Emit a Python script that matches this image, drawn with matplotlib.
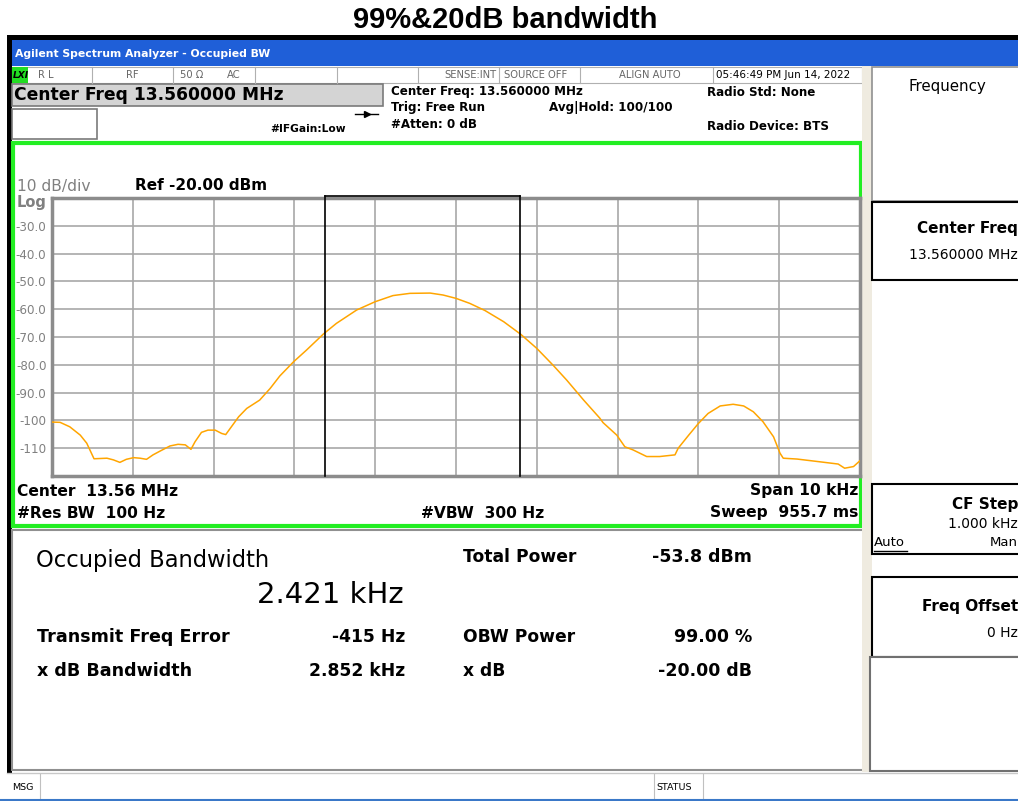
import numpy as np
import matplotlib.pyplot as plt
from matplotlib.patches import Rectangle

plt.rcParams['font.family'] = ['DejaVu Sans']

# trace: offset from centre (kHz) and level (dBm)
freq_khz = [-5.00, -4.90, -4.78, -4.65, -4.57, -4.48, -4.32, -4.24, -4.16, -4.08,
            -3.99, -3.91, -3.83, -3.75, -3.66, -3.54, -3.44, -3.35, -3.28, -3.23,
            -3.15, -3.07, -2.98, -2.90, -2.85, -2.78, -2.69, -2.59, -2.43, -2.30,
            -2.18, -2.01, -1.85, -1.64, -1.48, -1.23, -1.00, -0.78, -0.57, -0.32,
            -0.16, 0.00, 0.17, 0.36, 0.59, 0.80, 1.00, 1.20, 1.37, 1.58,
            1.78, 1.82, 1.99, 2.09, 2.19, 2.36, 2.52, 2.71, 2.75, 2.88,
            3.00, 3.12, 3.27, 3.43, 3.56, 3.68, 3.80, 3.93, 4.01, 4.05,
            4.22, 4.42, 4.59, 4.73, 4.81, 4.92, 5.00]
level_dbm = [-100.6, -100.7, -102.3, -105.3, -108.2, -113.8, -113.6, -114.2, -115.1, -114.0,
             -113.4, -113.6, -114.0, -112.4, -111.0, -109.2, -108.6, -108.8, -110.4, -107.7,
             -104.3, -103.5, -103.5, -104.7, -105.1, -102.3, -98.7, -95.7, -92.7, -88.5,
             -84.0, -78.9, -74.7, -68.9, -65.1, -60.3, -57.3, -55.1, -54.3, -54.2,
             -54.9, -56.1, -57.9, -60.5, -64.5, -69.0, -74.1, -80.1, -85.5, -92.7,
             -99.2, -100.8, -105.3, -109.5, -110.6, -113.0, -113.0, -112.4, -110.0, -105.3,
             -101.1, -97.5, -94.8, -94.2, -94.8, -96.9, -100.5, -105.9, -111.8, -113.6,
             -113.9, -114.6, -115.2, -115.7, -117.2, -116.6, -114.5]

ref_level = -20.0
db_per_div = 10
span_khz = 10.0
obw_khz = 2.421
freq_error_khz = -0.415

status_cells = ['R L', 'RF', '50 \u03a9', 'AC', 'SENSE:INT', 'SOURCE OFF', 'ALIGN AUTO',
                '05:46:49 PM Jun 14, 2022']
results_left = [('Transmit Freq Error', '-415 Hz'), ('x dB Bandwidth', '2.852 kHz')]
results_right = [('Total Power', '-53.8 dBm'), ('OBW Power', '99.00 %'), ('x dB', '-20.00 dB')]

W, H = 1018, 801
fig = plt.figure(figsize=(W / 100, H / 100), dpi=100)
bg = fig.add_axes([0, 0, 1, 1])
bg.set_xlim(0, W)
bg.set_ylim(H, 0)
bg.axis('off')


def box(x0, y0, x1, y1, fc='white', ec='none', lw=1.0, z=1):
    bg.add_patch(Rectangle((x0, y0), x1 - x0, y1 - y0, facecolor=fc, edgecolor=ec, lw=lw, zorder=z))


def txt(x, y, s, size=9, weight='bold', color='black', ha='left', **kw):
    bg.text(x, y, s, fontsize=size, fontweight=weight, color=color, ha=ha, va='center', **kw)


# title
txt(505, 20, '99%&20dB bandwidth', size=21, ha='center', family='Liberation Sans')

# window frame
box(7, 35, W, 40, fc='black')
box(7, 35, 12, 773, fc='black')
box(12, 40, W, 66, fc='#1f5fd8')
txt(15, 54, 'Agilent Spectrum Analyzer - Occupied BW', size=7.8, color='white')
box(862, 66, 872, 772, fc='#efebe0', z=2)

# status row
box(12, 67, 862, 83, fc='white', ec='#b0b0b0', lw=0.8)
box(12, 67, 28, 83, fc='#22dd22')
txt(13, 75, 'LXI', size=6.5, style='italic')
for sx in [92, 173, 255, 337, 418, 499, 580, 713]:
    bg.plot([sx, sx], [67, 83], color='#b0b0b0', lw=0.8)
cell_x = [38, 126, 180, 227, 497, 504, 650, 716]
cell_ha = ['left', 'left', 'left', 'left', 'right', 'left', 'center', 'left']
for s, cx, ha in zip(status_cells, cell_x, cell_ha):
    txt(cx, 75, s, size=7.5 if cx > 700 else 7.2, weight='normal',
        color='#666666' if cx < 700 else 'black', ha=ha)

# active function and settings
box(12, 84, 383, 106, fc='#d4d4d4', ec='#7a7a7a', lw=1.2)
txt(14, 95, 'Center Freq 13.560000 MHz', size=12.3)
box(12, 109, 97, 139, fc='white', ec='#7a7a7a', lw=1.2)
txt(270, 129, '#IFGain:Low', size=7.7)
bg.plot([355, 378], [114, 114], color='black', lw=1)
bg.plot([367], [114], marker='>', color='black', ms=4)
txt(391, 92, 'Center Freq: 13.560000 MHz', size=8.6)
txt(391, 108, 'Trig: Free Run', size=8.6)
txt(391, 124, '#Atten: 0 dB', size=8.6)
txt(549, 108, 'Avg|Hold: 100/100', size=8.6)
txt(707, 92, 'Radio Std: None', size=8.6)
txt(707, 126, 'Radio Device: BTS', size=8.6)

# graph frame
box(13, 143, 861, 526, fc='white', ec='#22ee22', lw=3)
txt(17, 186, '10 dB/div', size=11.2, weight='normal', color='#808080')
txt(17, 203, 'Log', size=10.5, color='#808080')
txt(135, 185, 'Ref %.2f dBm' % ref_level, size=11)
txt(17, 491, 'Center  13.56 MHz', size=11.2)
txt(17, 513, '#Res BW  100 Hz', size=11.2)
txt(421, 513, '#VBW  300 Hz', size=11.2)
txt(858, 491, 'Span %g kHz' % span_khz, size=11.2, ha='right')
txt(858, 513, 'Sweep  955.7 ms', size=11.2, ha='right')

# results panel
box(12, 530, 868, 770, fc='white', ec='#909090', lw=1.5)
txt(36, 561, 'Occupied Bandwidth', size=16.3, weight='normal')
txt(404, 595, '%.3f kHz' % obw_khz, size=21, weight='normal', ha='right')
for i, (lab, val) in enumerate(results_left):
    yy = 637 + 34 * i
    txt(37, yy, lab, size=12.6)
    txt(405, yy, val, size=12.3, ha='right')
for lab, val, yy in zip([r[0] for r in results_right], [r[1] for r in results_right], [557, 637, 671]):
    txt(463, yy, lab, size=12.3)
    txt(752, yy, val, size=12.5, ha='right')

# soft keys
box(872, 67, W + 2, 201, fc='white', ec='#909090', lw=1.2, z=3)
txt(947, 87, 'Frequency', size=10.8, weight='normal', ha='center', zorder=4)
box(872, 202, W + 2, 280, fc='white', ec='black', lw=1.5, z=3)
txt(1018, 229, 'Center Freq', size=11, ha='right', zorder=4)
txt(1018, 255, '13.560000 MHz', size=10, weight='normal', ha='right', zorder=4)
box(872, 484, W + 2, 554, fc='white', ec='black', lw=1.5, z=3)
txt(1018, 504, 'CF Step', size=11, ha='right', zorder=4)
txt(1018, 524, '1.000 kHz', size=10, weight='normal', ha='right', zorder=4)
txt(874, 543, 'Auto', size=9.5, weight='normal', zorder=4)
bg.plot([874, 907], [551, 551], color='black', lw=1, zorder=4)
txt(1018, 543, 'Man', size=9.5, weight='normal', ha='right', zorder=4)
box(872, 577, W + 2, 657, fc='white', ec='black', lw=1.5, z=3)
txt(1018, 606, 'Freq Offset', size=11, ha='right', zorder=4)
txt(1018, 633, '0 Hz', size=10, weight='normal', ha='right', zorder=4)
box(870, 657, W + 2, 771, fc='white', ec='#707070', lw=1.5, z=3)

# message bar
bg.plot([7, W], [773, 773], color='#c8c8c8', lw=1)
box(7, 773, W, 800, fc='white')
txt(12, 787, 'MSG', size=6.8, weight='normal')
txt(656, 787, 'STATUS', size=6.8, weight='normal')
for sx in [40, 654, 703]:
    bg.plot([sx, sx], [774, 800], color='#c0c0c0', lw=0.8)
bg.plot([0, W], [800, 800], color='#3a78c8', lw=1.5)

# trace axes
gx0, gx1, gy0, gy1 = 52, 860, 198, 476
ax = fig.add_axes([gx0 / W, 1 - gy1 / H, (gx1 - gx0) / W, (gy1 - gy0) / H])
ax.set_xlim(-span_khz / 2, span_khz / 2)
ax.set_ylim(ref_level - 10 * db_per_div, ref_level)
ax.set_xticks(np.linspace(-span_khz / 2, span_khz / 2, 11))
yt = np.arange(ref_level - 10 * db_per_div, ref_level + 1, db_per_div)
ax.set_yticks(yt)
ax.set_yticklabels(['' if v in (yt[0], yt[-1]) else ('%.1f' % v if v > -100 else '%d' % v) for v in yt])
ax.tick_params(length=0, labelbottom=False, labelsize=8.6, labelcolor='#808080', pad=4)
ax.grid(True, color='#a8a8a8', lw=1.2)
for sp in ax.spines.values():
    sp.set_color('#8c8c8c')
    sp.set_linewidth(2.5)
ax.plot(freq_khz, level_dbm, color='#ffa500', lw=1.1, zorder=5)

# occupied bandwidth markers
f_lo = freq_error_khz - obw_khz / 2
f_hi = freq_error_khz + obw_khz / 2
for f in (f_lo, f_hi):
    ax.plot([f, f], [ref_level - 100, ref_level + 0.6], color='black', lw=1.2, zorder=6, clip_on=False)
ax.plot([f_lo, f_hi], [ref_level + 0.6, ref_level + 0.6], color='black', lw=1.2, zorder=6, clip_on=False)

fig.savefig('out.png', dpi=100)
